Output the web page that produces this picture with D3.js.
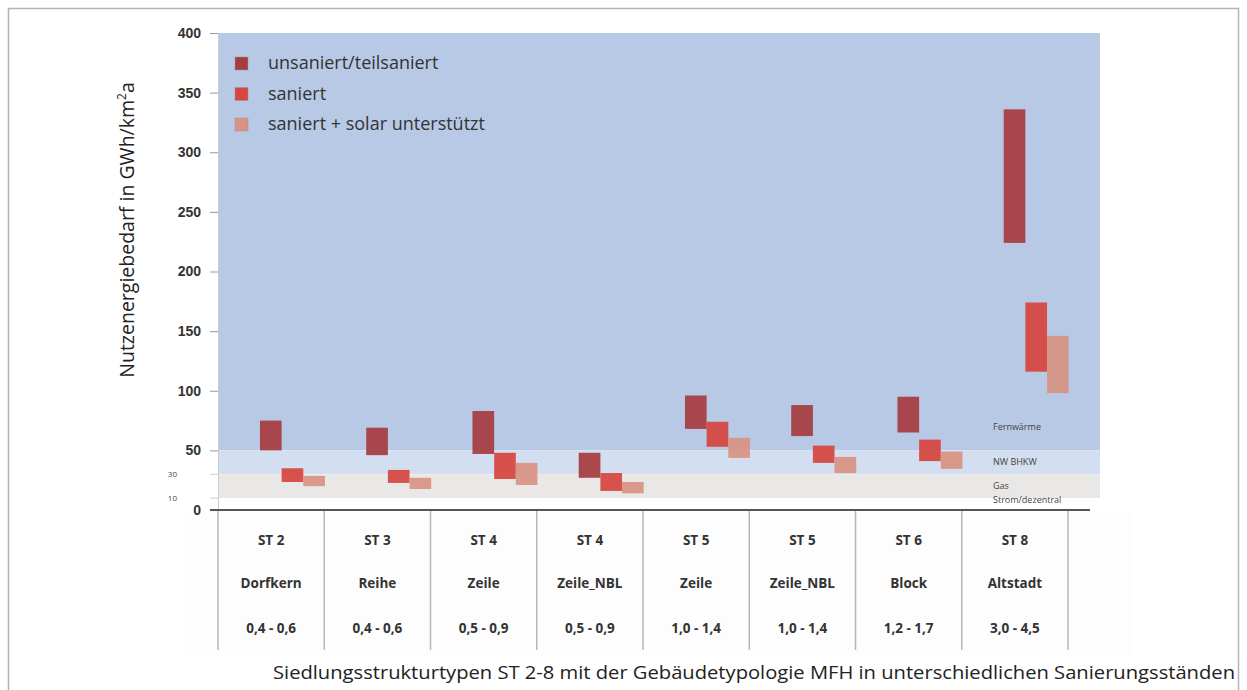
<!DOCTYPE html>
<meta charset="utf-8">
<style>
body { margin: 0; background: #fff; }
svg { display: block; font-family: "Open Sans", sans-serif; }
.axis text { font-weight: bold; font-size: 14px; fill: #333; }
.axis line { stroke: #999; }
.axis path { stroke: #ccc; }
</style>
<body>
<script src="https://d3js.org/d3.v7.min.js"></script>
<script>

// categories (table columns)
var stTypes   = ["ST 2", "ST 3", "ST 4", "ST 4", "ST 5", "ST 5", "ST 6", "ST 8"];
var stNames   = ["Dorfkern", "Reihe", "Zeile", "Zeile_NBL", "Zeile", "Zeile_NBL", "Block", "Altstadt"];
var stRanges  = ["0,4 - 0,6", "0,4 - 0,6", "0,5 - 0,9", "0,5 - 0,9", "1,0 - 1,4", "1,0 - 1,4", "1,2 - 1,7", "3,0 - 4,5"];

// series: [low, high] in GWh/km²a
var seriesNames = ["unsaniert/teilsaniert", "saniert", "saniert + solar unterstützt"];
var unsaniert = [[50, 75], [46, 69], [47, 83], [27, 48], [68, 96], [62, 88], [65, 95], [224, 336]];
var saniert   = [[23.5, 35], [22.7, 33.6], [26, 48], [16, 31], [53, 74], [39.5, 54], [41, 59], [116, 174]];
var solar     = [[20, 28.6], [17.6, 27], [21, 39.5], [14, 23.5], [43.7, 60.5], [31, 44.5], [34.5, 49], [98, 146]];

// supply zones
var zoneLabels = ["Fernwärme", "NW BHKW", "Gas", "Strom/dezentral"];
var zoneBounds = [[50, 400], [30, 50], [10, 30], [0, 10]];
var zoneColors = ["#b8c9e6", "#d3dff0", "#e9e8e6", "#ffffff"];

var yTicks = [0, 50, 100, 150, 200, 250, 300, 350, 400];
var ySmallTicks = [30, 10];

var colors = ["#a63c3f", "#d6463f", "#d89383"];

var W = 1247, H = 690;
var svg = d3.select("body").append("svg").attr("width", W).attr("height", H);

// outer frame
svg.append("rect").attr("x", 8.5).attr("y", 8.5).attr("width", 1230).attr("height", 700)
  .attr("fill", "none").attr("stroke", "#b3b3b3").attr("stroke-width", 1.5);

var plotLeft = 218, plotRight = 1100;
var x = d3.scaleBand().domain(d3.range(stTypes.length)).range([218, 1068]);
var y = d3.scaleLinear().domain([0, 400]).range([510, 33]);
var bw = x.bandwidth();
var xs = d3.scaleBand().domain(d3.range(3)).range([bw * 0.395, bw * 0.395 + 65]);

// table background
svg.append("rect").attr("x", 185).attr("y", 512).attr("width", 945).attr("height", 145).attr("fill", "#fdfdfd");

// zones
svg.selectAll(".zone").data(zoneBounds).enter().append("rect")
  .attr("x", plotLeft).attr("width", plotRight - plotLeft)
  .attr("y", function(d) { return y(d[1]); })
  .attr("height", function(d) { return y(d[0]) - y(d[1]); })
  .attr("fill", function(d, i) { return zoneColors[i]; });

svg.selectAll(".zlabel").data(zoneLabels).enter().append("text")
  .attr("x", 993)
  .attr("y", function(d, i) { return i == 0 ? 430 : i == 3 ? 503 : (y(zoneBounds[i][0]) + y(zoneBounds[i][1])) / 2 + 3; })
  .attr("font-size", "9px").attr("fill", "#444")
  .text(function(d) { return d; });

// y axis
var yAxis = d3.axisLeft(y).tickValues(yTicks).tickSize(8).tickPadding(9);
svg.append("g").attr("class", "axis").attr("transform", "translate(" + plotLeft + ",0)").call(yAxis);

svg.selectAll(".small").data(ySmallTicks).enter().append("text")
  .attr("x", 177).attr("y", function(d) { return y(d) + 3; })
  .attr("text-anchor", "end").attr("font-size", "8px").attr("fill", "#444")
  .text(function(d) { return d; });
svg.selectAll(".smalltick").data(ySmallTicks).enter().append("line")
  .attr("x1", 210).attr("x2", plotLeft).attr("y1", function(d) { return y(d); }).attr("y2", function(d) { return y(d); })
  .attr("stroke", "#ccc");

svg.append("text")
  .attr("transform", "translate(134," + 230 + ") rotate(-90)")
  .attr("text-anchor", "middle").attr("font-size", "19.5px").attr("fill", "#222")
  .html("Nutzenergiebedarf in GWh/km<tspan baseline-shift='super' font-size='12px'>2</tspan>a");

// bars
var allSeries = [unsaniert, saniert, solar];
allSeries.forEach(function(ser, s) {
  svg.selectAll(".bar" + s).data(ser).enter().append("rect")
    .attr("x", function(d, i) { return x(i) + xs(s); })
    .attr("width", xs.bandwidth())
    .attr("y", function(d) { return y(d[1]); })
    .attr("height", function(d) { return y(d[0]) - y(d[1]); })
    .attr("fill", colors[s]).attr("opacity", 0.93);
});

// bottom axis line
svg.append("line").attr("x1", 210).attr("x2", 1090).attr("y1", y(0)).attr("y2", y(0))
  .attr("stroke", "#555").attr("stroke-width", 2);

// table lines
var edges = d3.range(stTypes.length + 1).map(function(i) { return 218 + i * bw; });
svg.selectAll(".tline").data(edges).enter().append("line")
  .attr("x1", function(d) { return d; }).attr("x2", function(d) { return d; })
  .attr("y1", 511).attr("y2", 650)
  .attr("stroke", "#bfb3b1").attr("stroke-width", 1.5);

var rows = [stTypes, stNames, stRanges];
var rowY = [545, 588, 633];
rows.forEach(function(r, k) {
  svg.selectAll(".row" + k).data(r).enter().append("text")
    .attr("x", function(d, i) { return x(i) + bw / 2; })
    .attr("y", rowY[k])
    .attr("text-anchor", "middle").attr("font-size", "13.5px").attr("font-weight", "bold").attr("fill", "#333")
    .text(function(d) { return d; });
});

// legend
var legend = svg.selectAll(".leg").data(seriesNames).enter().append("g")
  .attr("transform", function(d, i) { return "translate(235," + (57 + i * 30.5) + ")"; });
legend.append("rect").attr("width", 13).attr("height", 13)
  .attr("fill", function(d, i) { return colors[i]; }).attr("stroke", "#999").attr("stroke-width", 0.5);
legend.append("text").attr("x", 33).attr("y", 12).attr("font-size", "18px").attr("fill", "#333")
  .text(function(d) { return d; });

// caption
svg.append("text").attr("x", 273).attr("y", 679)
  .attr("font-size", "18px").attr("fill", "#222")
  .attr("textLength", 962).attr("lengthAdjust", "spacingAndGlyphs")
  .text("Siedlungsstrukturtypen ST 2-8 mit der Gebäudetypologie MFH in unterschiedlichen Sanierungsständen");

</script>
